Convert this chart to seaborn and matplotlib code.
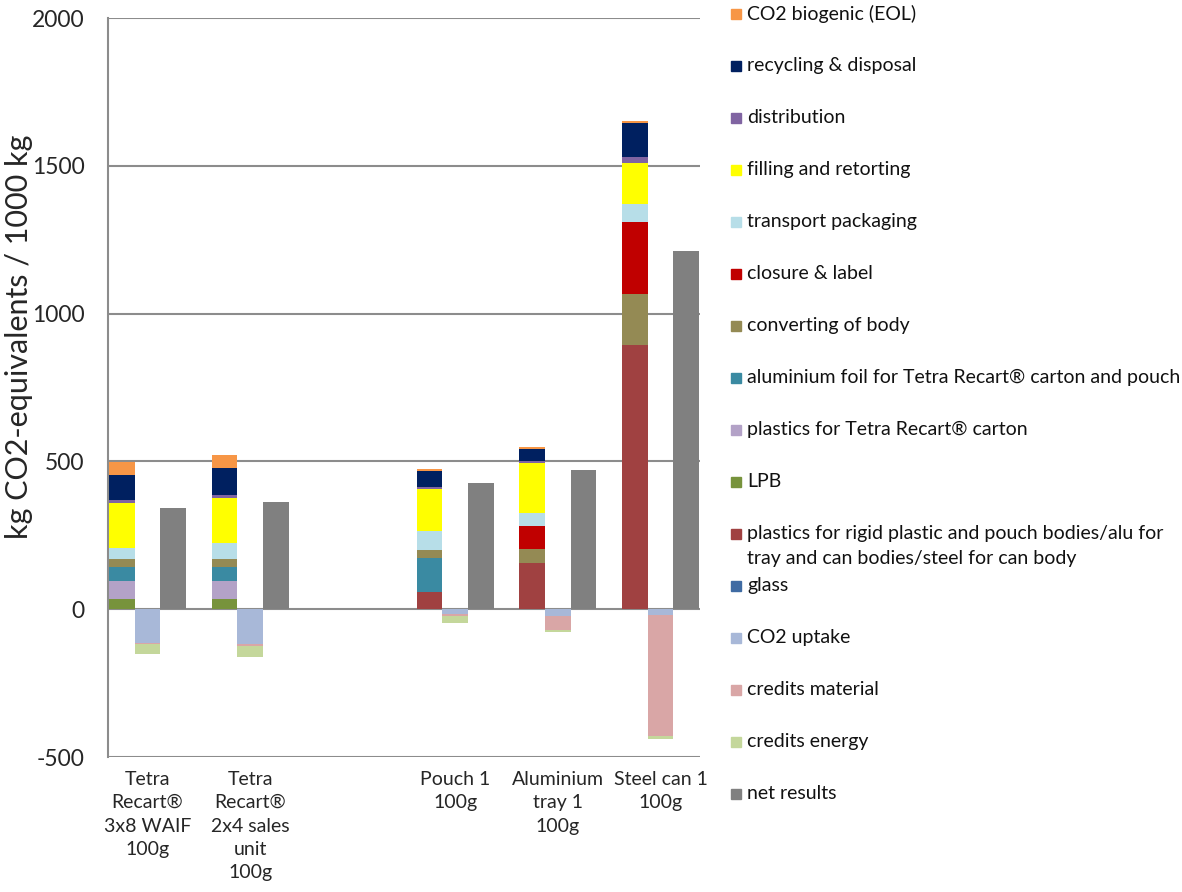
import numpy as np
import pandas as pd
import seaborn as sns
import matplotlib.pyplot as plt
from matplotlib.patches import Rectangle

# products (x axis), one empty slot between the cartons and the others
products = ["Tetra\nRecart®\n3x8 WAIF\n100g",
            "Tetra\nRecart®\n2x4 sales\nunit\n100g",
            "Pouch 1\n100g",
            "Aluminium\ntray 1\n100g",
            "Steel can 1\n100g"]
slots = [0, 1, 3, 4, 5]

# burdens, stacked bottom -> top
glass = [0, 0, 0, 0, 0]
plastics_rigid = [0, 0, 57, 158, 893]
lpb = [34, 34, 0, 0, 0]
plastics_tetra = [63, 63, 0, 0, 0]
alu_foil = [46, 46, 115, 0, 0]
converting = [27, 27, 28, 47, 174]
closure = [0, 0, 0, 78, 244]
transport = [38, 55, 65, 41, 59]
filling = [152, 152, 141, 172, 140]
distribution = [8, 9, 9, 7, 21]
recycling = [86, 92, 53, 39, 115]
co2_biogenic = [43, 45, 6, 7, 7]

# credits, stacked downwards from 0
co2_uptake = [-113, -119, -17, -23, -20]
credits_material = [-6, -6, -7, -47, -408]
credits_energy = [-34, -35, -24, -8, -11]

net_results = [342, 362, 426, 470, 1211]

pos_series = [
    ("glass", glass, "#3F6BA3"),
    ("plastics for rigid plastic and pouch bodies/alu for\ntray and can bodies/steel for can body", plastics_rigid, "#A04141"),
    ("LPB", lpb, "#77933C"),
    ("plastics for Tetra Recart® carton", plastics_tetra, "#B3A2C7"),
    ("aluminium foil for Tetra Recart® carton and pouch", alu_foil, "#3A8AA2"),
    ("converting of body", converting, "#948A54"),
    ("closure & label", closure, "#C00000"),
    ("transport packaging", transport, "#B7DEE8"),
    ("filling and retorting", filling, "#FFFF00"),
    ("distribution", distribution, "#8064A2"),
    ("recycling & disposal", recycling, "#002060"),
    ("CO2 biogenic (EOL)", co2_biogenic, "#F79646"),
]
neg_series = [
    ("CO2 uptake", co2_uptake, "#A8B8D8"),
    ("credits material", credits_material, "#D9A6A6"),
    ("credits energy", credits_energy, "#C4D79B"),
]
net_color = "#808080"

sns.set_style("white")
plt.rcParams["font.family"] = ["Lato", "DejaVu Sans"]
plt.rcParams["axes.unicode_minus"] = False

fig = plt.figure(figsize=(11.82, 8.92), dpi=100)
ax = fig.add_axes([0.0914, 0.1513, 0.5008, 0.8285])

w = 0.25
x = np.array(slots, dtype=float)

bottom = np.zeros(len(products))
for name, vals, col in pos_series:
    v = np.array(vals, dtype=float)
    ax.bar(x - w, v, width=w, bottom=bottom, color=col, edgecolor="none", zorder=3)
    bottom += v

bottom = np.zeros(len(products))
for name, vals, col in neg_series:
    v = np.array(vals, dtype=float)
    ax.bar(x, v, width=w, bottom=bottom, color=col, edgecolor="none", zorder=3)
    bottom += v

df_net = pd.DataFrame({"x": x + w, "net": net_results})
sns.barplot(data=df_net, x="x", y="net", native_scale=True, width=w,
            color=net_color, saturation=1, edgecolor="none", ax=ax, zorder=3)

ax.set_xlim(-0.385, 5.385)
ax.set_ylim(-500, 2000)
ax.set_yticks(np.arange(-500, 2001, 500))
ax.yaxis.grid(True, color="#8C8C8C", linewidth=1.5, zorder=1)
ax.xaxis.grid(False)
ax.set_xticks(x)
ax.set_xticklabels(products, fontsize=14, linespacing=1.45, va="top")
ax.tick_params(axis="x", length=0, pad=10)
ax.tick_params(axis="y", length=0, pad=17, labelsize=16.5)
ax.set_xlabel("")
ax.set_ylabel("kg CO2-equivalents / 1000 kg", fontsize=22)
ax.yaxis.set_label_coords(-0.127, 0.568)
for s in ["top", "right", "bottom"]:
    ax.spines[s].set_visible(False)
ax.spines["left"].set_color("#8C8C8C")
ax.spines["left"].set_linewidth(1.5)

# legend on the right, one 52 px slot per entry
legend_items = [(n, c) for n, v, c in reversed(pos_series)] + \
               [(n, c) for n, v, c in neg_series] + [("net results", net_color)]
W, H = 1182, 892
for i, (name, col) in enumerate(legend_items):
    y_px = 14 + 52 * i
    fig.add_artist(Rectangle((731 / W, 1 - (y_px + 5) / H), 10 / W, 10 / H,
                             transform=fig.transFigure, color=col))
    fig.text(747 / W, 1 - (y_px - 9) / H, name, fontsize=14, va="top",
             ha="left", linespacing=1.6, color="#111111")

fig.savefig("out.png", dpi=100)
